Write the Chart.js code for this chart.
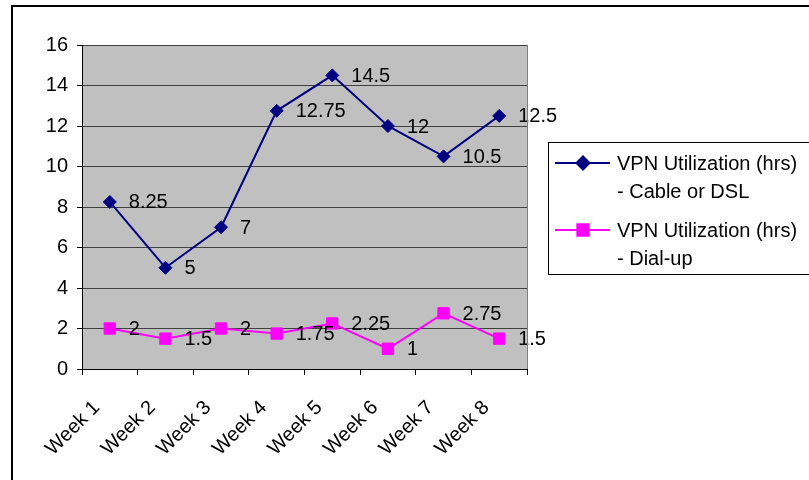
<!DOCTYPE html>
<html>
<head>
<meta charset="utf-8">
<script src="https://cdn.jsdelivr.net/npm/chart.js@4/dist/chart.umd.min.js"></script>
<style>
  html, body { margin: 0; padding: 0; background: #fff; }
  #wrap { position: relative; width: 809px; height: 480px; }
</style>
</head>
<body>
<div id="wrap"><canvas id="c" width="809" height="480"></canvas></div>
<script>
// Weekly VPN usage
const weeks = ['Week 1', 'Week 2', 'Week 3', 'Week 4', 'Week 5', 'Week 6', 'Week 7', 'Week 8'];
const cableDsl = [8.25, 5, 7, 12.75, 14.5, 12, 10.5, 12.5];
const dialUp = [2, 1.5, 2, 1.75, 2.25, 1, 2.75, 1.5];
const yMin = 0;
const yMax = 16;
const yStep = 2;
const seriesNames = [
  ['VPN Utilization (hrs)', '- Cable or DSL'],
  ['VPN Utilization (hrs)', '- Dial-up']
];

const FONT = '"Liberation Sans", Arial, sans-serif';
const FONT_SIZE = 20;
const PLOT_BG = '#C0C0C0';

const chartDecor = {
  id: 'chartDecor',
  beforeDraw(chart) {
    const { ctx, chartArea: a } = chart;
    ctx.save();
    ctx.fillStyle = '#fff';
    ctx.fillRect(0, 0, chart.width, chart.height);
    ctx.fillStyle = PLOT_BG;
    ctx.fillRect(a.left, a.top, a.right - a.left, a.bottom - a.top);
    ctx.restore();
  },
  afterDatasetsDraw(chart) {
    // value labels to the right of each point
    const { ctx } = chart;
    ctx.save();
    ctx.font = FONT_SIZE + 'px ' + FONT;
    ctx.fillStyle = '#000';
    ctx.textAlign = 'left';
    ctx.textBaseline = 'middle';
    chart.data.datasets.forEach((ds, i) => {
      const meta = chart.getDatasetMeta(i);
      meta.data.forEach((pt, j) => {
        ctx.fillText(String(ds.data[j]), pt.x + 19, pt.y + 1);
      });
    });
    ctx.restore();
  },
  afterDraw(chart) {
    const { ctx, chartArea: a } = chart;
    ctx.save();
    // right edge of the plot area
    ctx.strokeStyle = '#808080';
    ctx.lineWidth = 1;
    ctx.beginPath();
    ctx.moveTo(a.right + 0.5, a.top);
    ctx.lineTo(a.right + 0.5, a.bottom);
    ctx.stroke();

    // outer frame
    ctx.strokeStyle = '#000';
    ctx.lineWidth = 2;
    ctx.beginPath();
    ctx.moveTo(12, chart.height);
    ctx.lineTo(12, 6);
    ctx.lineTo(chart.width, 6);
    ctx.stroke();

    // legend
    const lx = 548, ly = 142;
    ctx.lineWidth = 1;
    ctx.strokeStyle = '#000';
    ctx.strokeRect(lx + 0.5, ly + 0.5, 300, 132);
    ctx.font = FONT_SIZE + 'px ' + FONT;
    ctx.textAlign = 'left';
    ctx.textBaseline = 'middle';
    chart.data.datasets.forEach((ds, i) => {
      const y = ly + 21 + i * 67;
      ctx.strokeStyle = ds.borderColor;
      ctx.lineWidth = ds.borderWidth;
      ctx.beginPath();
      ctx.moveTo(lx + 7, y);
      ctx.lineTo(lx + 62, y);
      ctx.stroke();
      ctx.fillStyle = ds.pointBackgroundColor;
      ctx.strokeStyle = ds.pointBorderColor;
      Chart.helpers.drawPoint(ctx, {
        pointStyle: ds.pointStyle,
        radius: ds.pointRadius,
        borderWidth: 1,
        rotation: 0
      }, lx + 35, y);
      ctx.fillStyle = '#000';
      seriesNames[i].forEach((line, k) => {
        ctx.fillText(line, lx + 69, y + 1 + k * 28);
      });
    });
    ctx.restore();
  }
};

new Chart(document.getElementById('c'), {
  type: 'line',
  data: {
    labels: weeks,
    datasets: [
      {
        label: seriesNames[0].join(' '),
        data: cableDsl,
        borderColor: '#000080',
        borderWidth: 2,
        pointStyle: 'rectRot',
        pointRadius: 6.5,
        pointBackgroundColor: '#000080',
        pointBorderColor: '#000080',
        pointBorderWidth: 1,
        tension: 0
      },
      {
        label: seriesNames[1].join(' '),
        data: dialUp,
        borderColor: '#FF00FF',
        borderWidth: 2,
        pointStyle: 'rect',
        pointRadius: 8,
        pointBackgroundColor: '#FF00FF',
        pointBorderColor: '#FF00FF',
        pointBorderWidth: 1,
        tension: 0
      }
    ]
  },
  options: {
    responsive: false,
    devicePixelRatio: 1,
    animation: false,
    layout: { padding: { left: 0, top: 45, right: 282, bottom: 0 } },
    plugins: {
      legend: { display: false },
      tooltip: { enabled: false }
    },
    scales: {
      x: {
        type: 'category',
        offset: true,
        grid: {
          offset: true,
          drawOnChartArea: false,
          drawTicks: true,
          tickLength: 6,
          tickColor: '#000'
        },
        border: { color: '#000', width: 1 },
        ticks: {
          autoSkip: false,
          minRotation: 45,
          maxRotation: 45,
          color: '#000',
          padding: 21,
          labelOffset: -13,
          font: { family: FONT, size: FONT_SIZE }
        },
        afterFit(scale) { scale.height = 111; }
      },
      y: {
        min: yMin,
        max: yMax,
        ticks: {
          stepSize: yStep,
          color: '#000',
          padding: 9,
          font: { family: FONT, size: FONT_SIZE }
        },
        grid: {
          color: '#404040',
          tickLength: 5,
          tickColor: '#000'
        },
        border: { color: '#000', width: 1 },
        afterFit(scale) { scale.width = 82; }
      }
    }
  },
  plugins: [chartDecor]
});
</script>
</body>
</html>
